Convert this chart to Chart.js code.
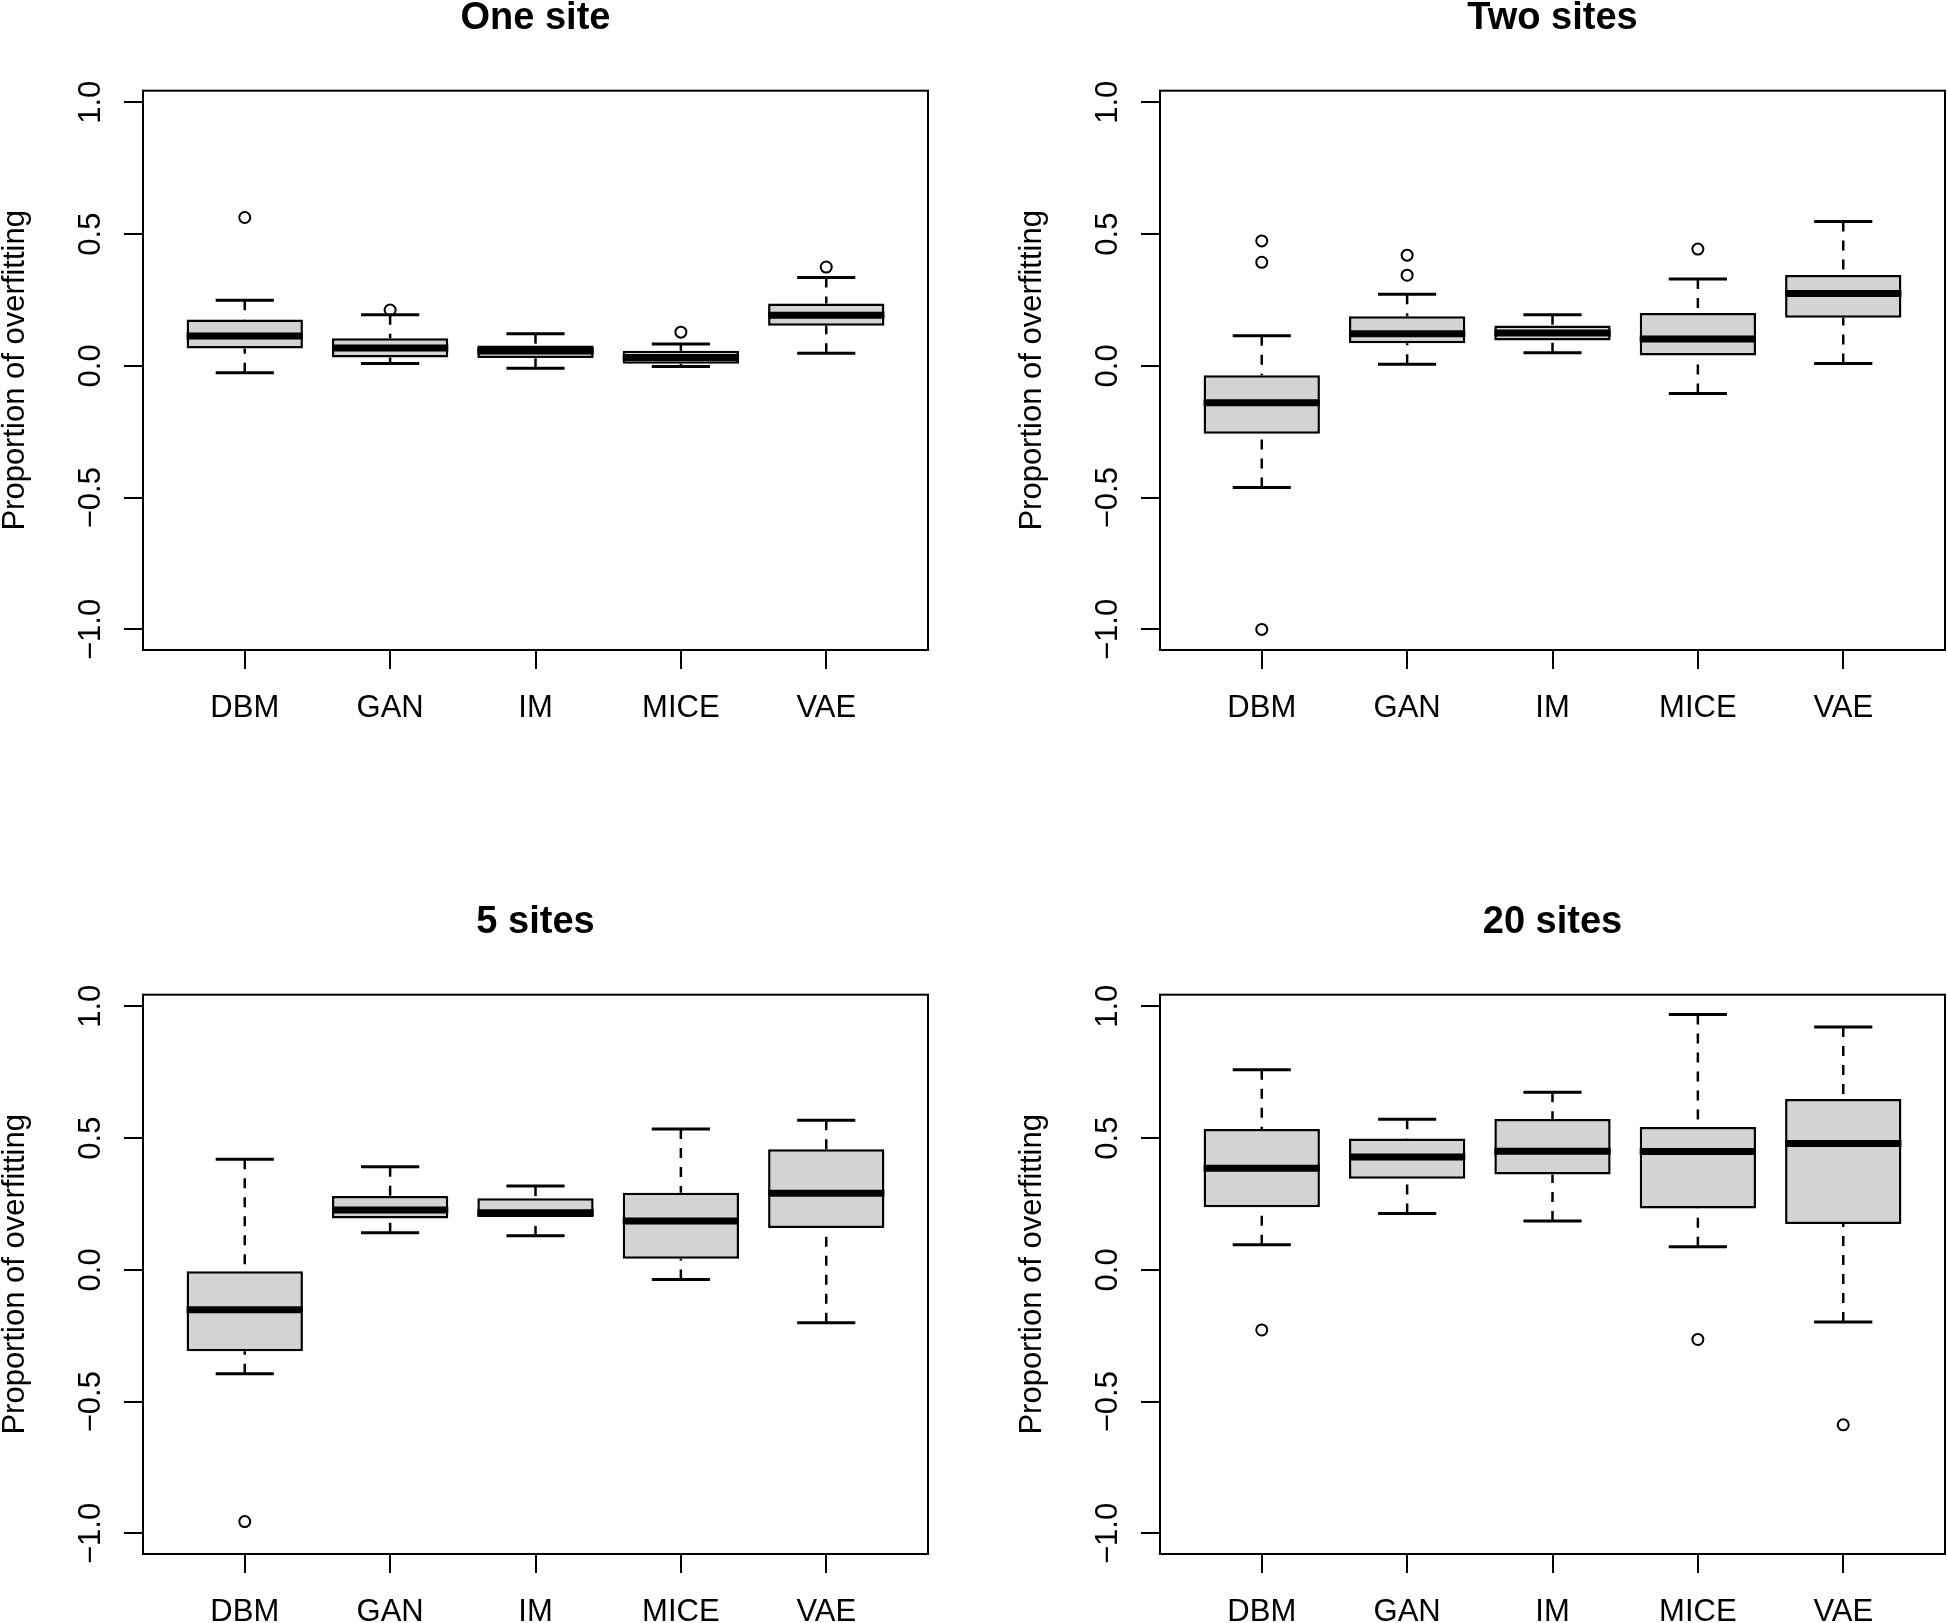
<!DOCTYPE html>
<html lang="en">
<head>
<meta charset="UTF-8">
<title>Proportion of overfitting by number of sites</title>
<script src="https://cdn.jsdelivr.net/npm/chart.js"></script>
<style>
	body { margin: 0; padding: 0; background: #fff; overflow: hidden; width: 1947px; height: 1623px; position: relative; }
	canvas { position: absolute; }
	#oneSite { left: 0; top: 0; }
	#twoSites { left: 1017px; top: 0; }
	#fiveSites { left: 0; top: 904px; }
	#twentySites { left: 1017px; top: 904px; }
</style>
</head>
<body>

<canvas id="oneSite" width="929" height="740"></canvas>
<canvas id="twoSites" width="929" height="740"></canvas>
<canvas id="fiveSites" width="929" height="740"></canvas>
<canvas id="twentySites" width="929" height="740"></canvas>

<script>
var methods = ['DBM', 'GAN', 'IM', 'MICE', 'VAE'];
var yTicks = [-1.0, -0.5, 0.0, 0.5, 1.0];
var yLabel = 'Proportion of overfitting';

// One site
var oneLower  = [-0.026, 0.009, -0.009, -0.002, 0.048];
var oneQ1     = [0.066, 0.032, 0.030, 0.008, 0.152];
var oneMedian = [0.113, 0.068, 0.056, 0.032, 0.192];
var oneQ3     = [0.176, 0.105, 0.077, 0.057, 0.237];
var oneUpper  = [0.249, 0.194, 0.122, 0.083, 0.335];
var oneOut    = [[0.563], [0.212], [], [0.128], [0.375]];

// Two sites
var twoLower  = [-0.461, 0.006, 0.050, -0.105, 0.009];
var twoQ1     = [-0.258, 0.086, 0.096, 0.039, 0.183];
var twoMedian = [-0.140, 0.122, 0.125, 0.102, 0.275];
var twoQ3     = [-0.036, 0.188, 0.153, 0.201, 0.345];
var twoUpper  = [0.114, 0.272, 0.194, 0.330, 0.548];
var twoOut    = [[0.474, 0.393, -1.0], [0.344, 0.420], [], [0.443], []];

// 5 sites
var fiveLower  = [-0.394, 0.141, 0.129, -0.037, -0.201];
var fiveQ1     = [-0.309, 0.195, 0.201, 0.042, 0.159];
var fiveMedian = [-0.151, 0.227, 0.217, 0.185, 0.291];
var fiveQ3     = [-0.005, 0.280, 0.272, 0.293, 0.458];
var fiveUpper  = [0.420, 0.391, 0.318, 0.534, 0.568];
var fiveOut    = [[-0.955], [], [], [], []];

// 20 sites
var twentyLower  = [0.095, 0.214, 0.185, 0.088, -0.198];
var twentyQ1     = [0.238, 0.346, 0.362, 0.233, 0.174];
var twentyMedian = [0.386, 0.428, 0.450, 0.449, 0.479];
var twentyQ3     = [0.534, 0.498, 0.572, 0.542, 0.648];
var twentyUpper  = [0.759, 0.571, 0.674, 0.969, 0.921];
var twentyOut    = [[-0.228], [], [], [-0.264], [-0.588]];

Chart.defaults.font.family = '"Liberation Sans", Arial, Helvetica, sans-serif';
Chart.defaults.color = '#000';

function drawPanel(canvasId, title, lower, q1, median, q3, upper, outliers) {
	var boxes = methods.map(function(m, i) { return { x: i + 1, y: [q1[i], q3[i]] }; });
	var points = [];
	outliers.forEach(function(list, i) {
		list.forEach(function(v) { points.push({ x: i + 1, y: v }); });
	});

	// whiskers, staples, medians and the frame round the plot
	var extras = {
		id: 'boxExtras',
		afterDatasetsDraw: function(chart) {
			var ctx = chart.ctx, xs = chart.scales.x, ys = chart.scales.y, a = chart.chartArea;
			ctx.save();
			ctx.strokeStyle = '#000';
			ctx.lineCap = 'butt';
			methods.forEach(function(m, i) {
				var cx = xs.getPixelForValue(i + 1);
				var half = xs.getPixelForValue(i + 1.4) - cx;
				var capHalf = half / 2;

				ctx.lineWidth = 2.5;
				ctx.setLineDash([10, 9]);
				ctx.beginPath();
				ctx.moveTo(cx, ys.getPixelForValue(upper[i]));
				ctx.lineTo(cx, ys.getPixelForValue(q3[i]));
				ctx.stroke();
				ctx.beginPath();
				ctx.moveTo(cx, ys.getPixelForValue(lower[i]));
				ctx.lineTo(cx, ys.getPixelForValue(q1[i]));
				ctx.stroke();

				ctx.setLineDash([]);
				ctx.lineWidth = 3;
				ctx.beginPath();
				ctx.moveTo(cx - capHalf, ys.getPixelForValue(upper[i]));
				ctx.lineTo(cx + capHalf, ys.getPixelForValue(upper[i]));
				ctx.moveTo(cx - capHalf, ys.getPixelForValue(lower[i]));
				ctx.lineTo(cx + capHalf, ys.getPixelForValue(lower[i]));
				ctx.stroke();

				ctx.lineWidth = 7;
				ctx.beginPath();
				ctx.moveTo(cx - half, ys.getPixelForValue(median[i]));
				ctx.lineTo(cx + half, ys.getPixelForValue(median[i]));
				ctx.stroke();
			});
			ctx.lineWidth = 2;
			ctx.strokeRect(a.left, a.top, a.right - a.left, a.bottom - a.top);
			ctx.restore();
		}
	};

	return new Chart(document.getElementById(canvasId), {
		type: 'bar',
		data: {
			datasets: [{
				type: 'bar',
				data: boxes,
				backgroundColor: '#d3d3d3',
				borderColor: '#000',
				borderWidth: 2.5,
				borderSkipped: false,
				barPercentage: 0.8,
				categoryPercentage: 1.0
			}, {
				type: 'scatter',
				data: points,
				pointStyle: 'circle',
				pointRadius: 5.5,
				pointBorderWidth: 2,
				pointBackgroundColor: 'rgba(0,0,0,0)',
				pointBorderColor: '#000'
			}]
		},
		options: {
			responsive: false,
			animation: false,
			layout: { autoPadding: false, padding: { left: 0, right: 1, top: 0, bottom: 0 } },
			plugins: {
				legend: { display: false },
				tooltip: { enabled: false },
				title: {
					display: true,
					text: title,
					fullSize: false,
					color: '#000',
					font: { size: 38, weight: 'bold', lineHeight: 1 },
					padding: { top: 0, bottom: 52.7 }
				}
			},
			scales: {
				x: {
					type: 'linear',
					min: 0.3,
					max: 5.7,
					offset: false,
					afterBuildTicks: function(ax) { ax.ticks = methods.map(function(m, i) { return { value: i + 1 }; }); },
					afterFit: function(ax) {
						ax.height = 90;
						ax.paddingLeft = 0;
						ax.paddingRight = 0;
					},
					ticks: {
						callback: function(v) { return methods[v - 1]; },
						font: { size: 31 },
						color: '#000',
						padding: 21,
						maxRotation: 0,
						autoSkip: false
					},
					grid: { offset: false, drawOnChartArea: false, tickLength: 19, color: '#000', lineWidth: 2 },
					border: { display: false }
				},
				y: {
					min: -1.078,
					max: 1.044,
					afterBuildTicks: function(ax) { ax.ticks = yTicks.map(function(v) { return { value: v }; }); },
					afterFit: function(ax) {
						ax.width = 143;
						ax.paddingTop = 0;
						ax.paddingBottom = 0;
					},
					ticks: {
						callback: function(v) { return (v < 0 ? '\u2212' : '') + Math.abs(v).toFixed(1); },
						font: { size: 31 },
						color: '#000',
						padding: 2,
						minRotation: 90,
						maxRotation: 90,
						crossAlign: 'center'
					},
					grid: { drawOnChartArea: false, tickLength: 19, color: '#000', lineWidth: 2 },
					border: { display: false },
					title: {
						display: true,
						text: yLabel,
						color: '#000',
						font: { size: 31, lineHeight: 1 },
						padding: 0
					}
				}
			}
		},
		plugins: [extras]
	});
}

drawPanel('oneSite', 'One site', oneLower, oneQ1, oneMedian, oneQ3, oneUpper, oneOut);
drawPanel('twoSites', 'Two sites', twoLower, twoQ1, twoMedian, twoQ3, twoUpper, twoOut);
drawPanel('fiveSites', '5 sites', fiveLower, fiveQ1, fiveMedian, fiveQ3, fiveUpper, fiveOut);
drawPanel('twentySites', '20 sites', twentyLower, twentyQ1, twentyMedian, twentyQ3, twentyUpper, twentyOut);
</script>

</body>
</html>
